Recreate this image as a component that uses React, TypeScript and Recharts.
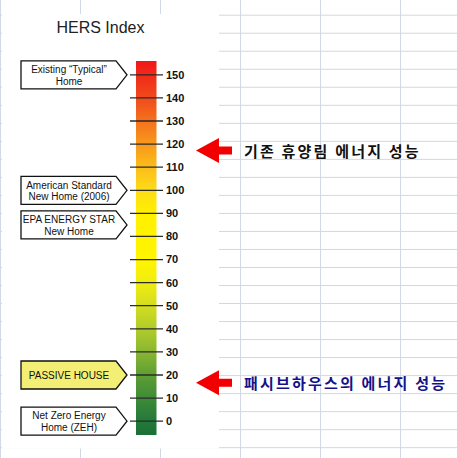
import React from 'react';
import { ComposedChart, Bar, XAxis, YAxis, ReferenceLine, ReferenceDot } from 'recharts';

// ---------- data ----------
const categories = ['HERS Index'];
const scaleRange: [number, number] = [-6, 156];
const tickValues = [0, 10, 20, 30, 40, 50, 60, 70, 80, 90, 100, 110, 120, 130, 140, 150];
const markerValues = [150, 100, 85, 20, 0];
const markerLabels = [
  ['Existing “Typical”', 'Home'],
  ['American Standard', 'New Home (2006)'],
  ['EPA ENERGY STAR', 'New Home'],
  ['PASSIVE HOUSE'],
  ['Net Zero Energy', 'Home (ZEH)'],
];
const markerHighlighted = [false, false, false, true, false];
const calloutValues = [117.2, 16.6];
const calloutTexts = ['기존 휴양림 에너지 성능', '패시브하우스의 에너지 성능'];
const title = 'HERS Index';

const data = categories.map((name) => ({ name, range: scaleRange }));

// ---------- style ----------
const gradientStops = [
  { o: 0, c: '#f01818' },
  { o: 0.099, c: '#f04a1c' },
  { o: 0.16, c: '#f4721d' },
  { o: 0.222, c: '#f8981c' },
  { o: 0.284, c: '#fbbd1a' },
  { o: 0.346, c: '#fddc18' },
  { o: 0.407, c: '#fff000' },
  { o: 0.531, c: '#fff600' },
  { o: 0.593, c: '#f0ec10' },
  { o: 0.654, c: '#d4dd20' },
  { o: 0.716, c: '#b0cc2a' },
  { o: 0.778, c: '#8ab632' },
  { o: 0.84, c: '#5e9e34' },
  { o: 0.901, c: '#3e8b38' },
  { o: 0.963, c: '#23793a' },
  { o: 1, c: '#1c6f35' },
];
const arial = 'Arial, "Liberation Sans", sans-serif';
const korean = '"Noto Sans CJK KR", sans-serif';
const calloutColors = ['#111111', '#12128a'];

const W = 457;
const H = 458;

const LabelBox = ({ cy, lines, highlight }: { cy: number; lines: string[]; highlight: boolean }) => {
  const left = 21;
  const right = 116;
  const tip = 127;
  const hh = 14;
  const cx = 69;
  const fs = 10;
  return (
    <g>
      <polygon
        points={`${left},${cy - hh} ${right},${cy - hh} ${tip},${cy} ${right},${cy + hh} ${left},${cy + hh}`}
        fill={highlight ? '#f3ef74' : '#ffffff'}
        stroke="#111"
        strokeWidth={1.3}
      />
      {lines.length === 1 ? (
        <text x={cx} y={cy + 3.6} textAnchor="middle" fontFamily={arial} fontSize={fs} fill="#111">
          {lines[0]}
        </text>
      ) : (
        <>
          <text x={cx} y={cy - 1.7} textAnchor="middle" fontFamily={arial} fontSize={fs} fill="#111">
            {lines[0]}
          </text>
          <text x={cx} y={cy + 9.7} textAnchor="middle" fontFamily={arial} fontSize={fs} fill="#111">
            {lines[1]}
          </text>
        </>
      )}
    </g>
  );
};

const Callout = ({ cy, text, color }: { cy: number; text: string; color: string }) => {
  const tip = 196;
  const back = 219;
  const end = 232;
  const head = 12.5;
  const shaft = 4;
  return (
    <g>
      <polygon
        points={`${tip},${cy} ${back},${cy - head} ${back},${cy - shaft} ${end},${cy - shaft} ${end},${cy + shaft} ${back},${cy + shaft} ${back},${cy + head}`}
        fill="#f20000"
      />
      <text
        x={244}
        y={cy + 6}
        fontFamily={korean}
        fontWeight={700}
        fontSize={15}
        letterSpacing={2.2}
        fill={color}
      >
        {text}
      </text>
    </g>
  );
};

const Background = () => {
  const cols = [0.5, 80.5, 160.5, 240.5, 320.5, 400.5];
  const rows: number[] = [];
  for (let y = 15.2; y < H; y += 18.02) rows.push(y);
  return (
    <svg width={W} height={H} style={{ position: 'absolute', left: 0, top: 0 }}>
      <rect x={0} y={0} width={W} height={H} fill="#ffffff" />
      {cols.map((x) => (
        <line key={'c' + x} x1={x} x2={x} y1={0} y2={H} stroke="#d0d7e5" strokeWidth={1} />
      ))}
      {rows.map((y) => (
        <line key={'r' + y} x1={0} x2={W} y1={y} y2={y} stroke="#d0d7e5" strokeWidth={1} />
      ))}
      <rect x={2} y={14} width={217} height={434.5} fill="#ffffff" />
      <text x={100.5} y={32.7} textAnchor="middle" fontFamily={arial} fontSize={16} fill="#222">
        {title}
      </text>
    </svg>
  );
};

export default function App() {
  return (
    <div style={{ position: 'absolute', left: 0, top: 0, width: W, height: H, overflow: 'hidden' }}>
      <Background />
      <div style={{ position: 'absolute', left: 0, top: 0 }}>
        <ComposedChart width={W} height={H} data={data} margin={{ top: 61, right: 234, bottom: 23, left: 130 }}>
          <defs>
            <linearGradient id="hersGrad" x1="0" y1="0" x2="0" y2="1">
              {gradientStops.map((s) => (
                <stop key={s.o} offset={s.o} stopColor={s.c} />
              ))}
            </linearGradient>
          </defs>
          <XAxis dataKey="name" type="category" hide />
          <YAxis
            orientation="right"
            type="number"
            width={60}
            domain={scaleRange}
            ticks={tickValues}
            interval={0}
            axisLine={false}
            tickLine={false}
            tickSize={0}
            tickMargin={3}
            tick={{ fill: '#111', fontSize: 11, fontWeight: 700, fontFamily: arial }}
          />
          <Bar dataKey="range" barSize={20.5} fill="url(#hersGrad)" isAnimationActive={false} />
          {tickValues.map((v) => (
            <ReferenceLine key={'t' + v} y={v} stroke="#2a2a2a" strokeWidth={1.3} />
          ))}
          {markerValues.map((v, i) => (
            <ReferenceDot
              key={'m' + i}
              x={categories[0]}
              y={v}
              r={0}
              ifOverflow="visible"
              shape={(p: any) => (
                <LabelBox cy={p.cy} lines={markerLabels[i]} highlight={markerHighlighted[i]} />
              )}
            />
          ))}
          {calloutValues.map((v, i) => (
            <ReferenceDot
              key={'a' + i}
              x={categories[0]}
              y={v}
              r={0}
              ifOverflow="visible"
              shape={(p: any) => <Callout cy={p.cy} text={calloutTexts[i]} color={calloutColors[i]} />}
            />
          ))}
        </ComposedChart>
      </div>
    </div>
  );
}
